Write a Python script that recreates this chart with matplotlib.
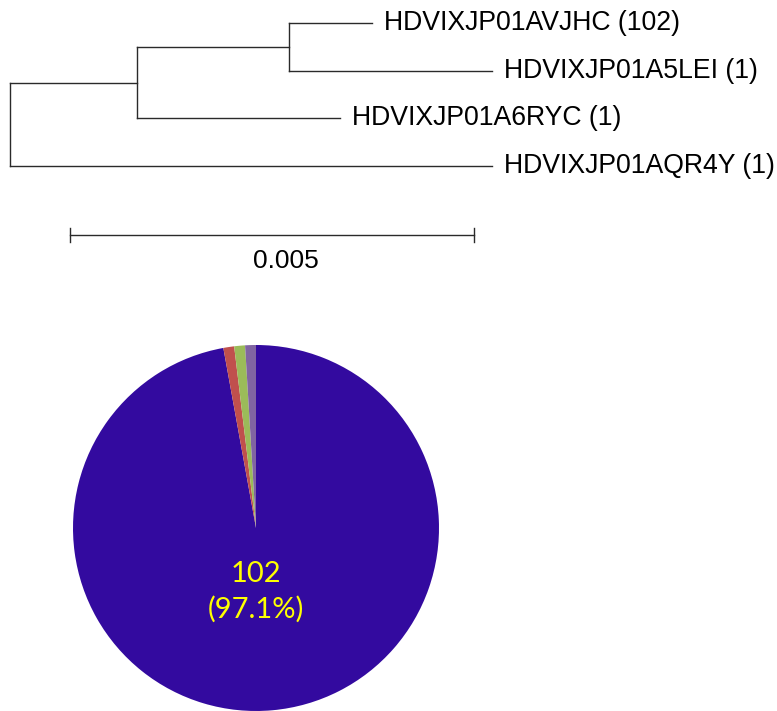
import matplotlib
matplotlib.use("Agg")
import matplotlib.pyplot as plt

# Tree: branch lengths (substitutions per site)
leaf_names = ["HDVIXJP01AVJHC", "HDVIXJP01A5LEI", "HDVIXJP01A6RYC", "HDVIXJP01AQR4Y"]
leaf_counts = [102, 1, 1, 1]
# root -> A, A -> B, B -> leaf0, B -> leaf1, A -> leaf2, root -> leaf3
branch_root_A = 0.00157
branch_A_B = 0.00188
branch_B_leaf0 = 0.00103
branch_B_leaf1 = 0.00251
branch_A_leaf2 = 0.00251
branch_root_leaf3 = 0.00597
scale_length = 0.005

pie_colors = ["#330a9f", "#c0504d", "#9bbb59", "#8064a2"]

W, H = 777, 711
fig = plt.figure(figsize=(W / 100, H / 100), dpi=100)

# ---- tree panel ----
px_per_unit = 80800.0
tree_top, tree_bot = 0, 290
ax_t = fig.add_axes([0, 1 - tree_bot / H, 1, (tree_bot - tree_top) / H])
x0_px = 10
ax_t.set_xlim(-x0_px / px_per_unit, (W - x0_px) / px_per_unit)
leaf_px0, leaf_step = 23, 47.67
ax_t.set_ylim((tree_bot - leaf_px0) / leaf_step, (tree_top - leaf_px0) / leaf_step)
ax_t.axis("off")

lc = "#2a2a2a"
lw = 1.0
yB = 0.5
yA = (yB + 2) / 2
xA = branch_root_A
xB = xA + branch_A_B
leaf_x = [xB + branch_B_leaf0, xB + branch_B_leaf1, xA + branch_A_leaf2, branch_root_leaf3]
leaf_parent_x = [xB, xB, xA, 0.0]

# vertical connectors
ax_t.plot([0, 0], [yA, 3], color=lc, lw=lw)
ax_t.plot([xA, xA], [yB, 2], color=lc, lw=lw)
ax_t.plot([xB, xB], [0, 1], color=lc, lw=lw)
# internal horizontal branches
ax_t.plot([0, xA], [yA, yA], color=lc, lw=lw)
ax_t.plot([xA, xB], [yB, yB], color=lc, lw=lw)
# leaf branches and labels
for i, (name, cnt) in enumerate(zip(leaf_names, leaf_counts)):
    ax_t.plot([leaf_parent_x[i], leaf_x[i]], [i, i], color=lc, lw=lw)
    ax_t.text(leaf_x[i] + 12 / px_per_unit, i, f"{name} ({cnt})",
              fontsize=19.2, family="Liberation Sans", va="center", ha="left", color="black")

# scale bar
sb_x0 = (70 - x0_px) / px_per_unit
sb_y = (235 - leaf_px0) / leaf_step
tick = 7 / leaf_step
ax_t.plot([sb_x0, sb_x0 + scale_length], [sb_y, sb_y], color=lc, lw=lw)
ax_t.plot([sb_x0, sb_x0], [sb_y - tick, sb_y + tick], color=lc, lw=lw)
ax_t.plot([sb_x0 + scale_length] * 2, [sb_y - tick, sb_y + tick], color=lc, lw=lw)
ax_t.text(sb_x0 + scale_length / 2 + 14 / px_per_unit, (261 - leaf_px0) / leaf_step,
          f"{scale_length}", fontsize=19, family="Liberation Sans", ha="center", va="center")

# ---- pie panel ----
cx, cy, r = 256, 528, 183
ax_p = fig.add_axes([(cx - r) / W, 1 - (cy + r) / H, 2 * r / W, 2 * r / H])
total = sum(leaf_counts)
wedges, _ = ax_p.pie(leaf_counts, colors=pie_colors, startangle=90, counterclock=False,
                     radius=1.0, wedgeprops=dict(linewidth=0))
ax_p.set_xlim(-1, 1)
ax_p.set_ylim(-1, 1)
ax_p.set_aspect("equal")
ax_p.axis("off")
ax_p.text(0, -0.35, f"{leaf_counts[0]}\n({leaf_counts[0] / total * 100:.1f}%)",
          color="#ffff00", fontsize=21, family="Lato", ha="center", va="center",
          linespacing=1.38)

fig.savefig("out.png", dpi=100)
